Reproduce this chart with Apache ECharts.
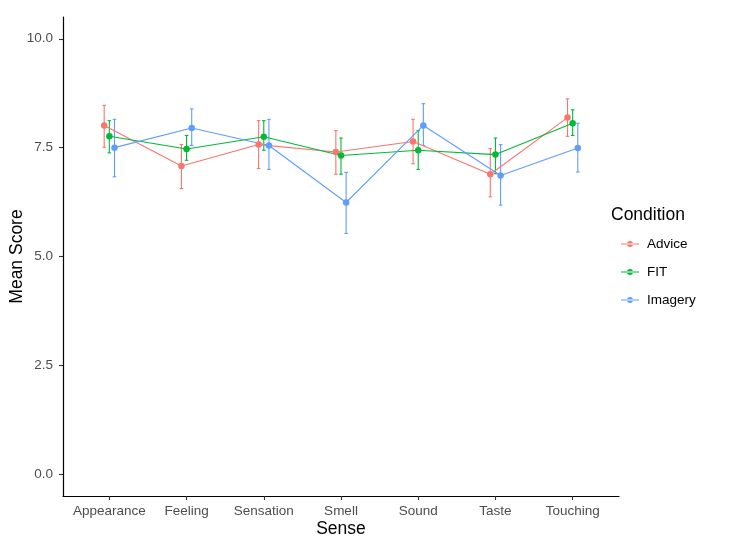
<!DOCTYPE html>
<html>
<head>
<meta charset="utf-8">
<script src="https://cdn.jsdelivr.net/npm/echarts@6/dist/echarts.min.js"></script>
<style>html,body{margin:0;padding:0;background:#fff}#c{width:729px;height:536px}</style>
</head>
<body>
<div id="c"></div>
<script>
var categories = ['Appearance','Feeling','Sensation','Smell','Sound','Taste','Touching'];
var groups = ['Advice','FIT','Imagery'];
var adviceMean = [8.01, 7.08, 7.57, 7.40, 7.64, 6.89, 8.19];
var adviceLow  = [7.51, 6.56, 7.02, 6.89, 7.13, 6.37, 7.76];
var adviceHigh = [8.47, 7.57, 8.12, 7.89, 8.15, 7.48, 8.62];
var fitMean = [7.76, 7.47, 7.75, 7.32, 7.44, 7.34, 8.06];
var fitLow  = [7.38, 7.21, 7.44, 6.89, 7.00, 6.90, 7.78];
var fitHigh = [8.12, 7.78, 8.12, 7.72, 7.89, 7.72, 8.37];
var imageryMean = [7.50, 7.95, 7.55, 6.24, 8.01, 6.86, 7.49];
var imageryLow  = [6.83, 7.55, 7.00, 5.53, 7.55, 6.18, 6.94];
var imageryHigh = [8.15, 8.39, 8.15, 6.93, 8.51, 7.57, 8.06];
var yTicks = [0, 2.5, 5, 7.5, 10];

var colors = ['#F8766D', '#00BA38', '#619CFF'];
var dodge = [-1/15, 0, 1/15];
var means = [adviceMean, fitMean, imageryMean];
var lows = [adviceLow, fitLow, imageryLow];
var highs = [adviceHigh, fitHigh, imageryHigh];
var FONT = '"Liberation Sans", Arial, sans-serif';

var series = [];
groups.forEach(function (g, gi) {
  var errData = categories.map(function (c, i) { return [i + dodge[gi], lows[gi][i], highs[gi][i]]; });
  series.push({
    name: g, type: 'custom', z: 2,
    data: errData,
    encode: { x: 0, y: [1, 2] },
    renderItem: function (params, api) {
      var x = api.value(0);
      var lo = api.coord([x, api.value(1)]);
      var hi = api.coord([x, api.value(2)]);
      var w = 1.8;
      var st = { stroke: colors[gi], lineWidth: 1.1 };
      return { type: 'group', children: [
        { type: 'line', shape: { x1: lo[0], y1: lo[1], x2: hi[0], y2: hi[1] }, style: st },
        { type: 'line', shape: { x1: lo[0] - w, y1: lo[1], x2: lo[0] + w, y2: lo[1] }, style: st },
        { type: 'line', shape: { x1: hi[0] - w, y1: hi[1], x2: hi[0] + w, y2: hi[1] }, style: st }
      ]};
    },
    silent: true
  });
  series.push({
    name: g, type: 'line', z: 3,
    data: categories.map(function (c, i) { return [i + dodge[gi], means[gi][i]]; }),
    symbol: 'circle', symbolSize: 6.5, showSymbol: true,
    itemStyle: { color: colors[gi] },
    lineStyle: { color: colors[gi], width: 1.1 },
    animation: false
  });
});

var chart = echarts.init(document.getElementById('c'), null, { renderer: 'canvas' });
chart.setOption({
  animation: false,
  backgroundColor: '#fff',
  color: colors,
  grid: { left: 63, right: 110, top: 17, bottom: 40, containLabel: false, outerBoundsMode: 'none' },
  xAxis: {
    type: 'value', min: -0.6, max: 6.6,
    name: 'Sense', nameLocation: 'middle', nameGap: 24, nameMoveOverlap: false,
    nameTextStyle: { fontFamily: FONT, fontSize: 17.5, color: '#000' },
    axisLine: { show: true, onZero: false, lineStyle: { color: '#000', width: 1.2 } },
    axisTick: { show: true, length: 4, customValues: [0,1,2,3,4,5,6], lineStyle: { color: '#333', width: 1.1 } },
    axisLabel: { customValues: [0,1,2,3,4,5,6], margin: 8, fontFamily: FONT, fontSize: 13.5, color: '#4D4D4D',
      formatter: function (v) { return categories[Math.round(v)]; } },
    splitLine: { show: false }
  },
  yAxis: {
    type: 'value', min: -0.5, max: 10.5,
    name: 'Mean Score', nameLocation: 'middle', nameGap: 37, nameRotate: 90, nameMoveOverlap: false,
    nameTextStyle: { fontFamily: FONT, fontSize: 17.5, color: '#000' },
    axisLine: { show: true, onZero: false, lineStyle: { color: '#000', width: 1.2 } },
    axisTick: { show: true, length: 4, customValues: yTicks, lineStyle: { color: '#333', width: 1.1 } },
    axisLabel: { customValues: yTicks, margin: 10, fontFamily: FONT, fontSize: 13.5, color: '#4D4D4D',
      formatter: function (v) { return Number(v).toFixed(1); } },
    splitLine: { show: false }
  },
  legend: {
    orient: 'vertical', left: 616, top: 232,
    data: groups,
    itemWidth: 18, itemHeight: 6, itemGap: 14,
    icon: 'path://M0,2.45h18v1.1h-18z M6,3a3,3 0 1,0 6,0a3,3 0 1,0 -6,0z',
    textStyle: { fontFamily: FONT, fontSize: 13.5, color: '#000', padding: [0,0,0,3] },
    selectedMode: false
  },
  graphic: [{
    type: 'text', left: 611, top: 206,
    style: { text: 'Condition', fontFamily: FONT, fontSize: 17.5, fill: '#000' }
  }],
  series: series
});
</script>
</body>
</html>
